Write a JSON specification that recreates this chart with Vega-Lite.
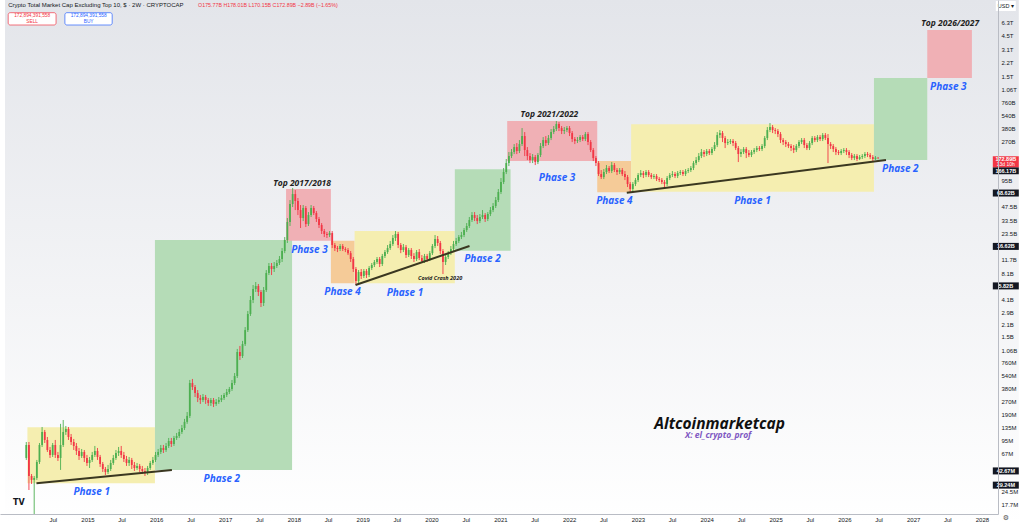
{
"$schema": "https://vega.github.io/schema/vega-lite/v6.json",
"width": 998, "height": 514, "autosize": "none", "padding": {"left":0,"top":0,"right":26,"bottom":9},
"background": "#ffffff",
"resolve": {"axis": {"x": "independent", "y": "independent"}},
"config": {"view": {"stroke": null}, "axis": {"labelFont": "Liberation Sans", "labelFontSize": 6, "labelColor": "#131722", "ticks": false, "grid": false, "domainColor": "#b9bcc4", "domainWidth": 1, "zindex": 1, "labelOverlap": false, "labelFlush": false}},
"datasets": {"candles": [
{"d":"2014-02-10","o":0.0602,"h":0.092,"l":0.0571,"c":0.085},
{"d":"2014-02-24","o":0.085,"h":0.092,"l":0.0257,"c":0.0373},
{"d":"2014-03-10","o":0.0373,"h":0.0393,"l":0.0302,"c":0.0336},
{"d":"2014-03-24","o":0.0336,"h":0.0373,"l":0.008,"c":0.0354},
{"d":"2014-04-07","o":0.0354,"h":0.0571,"l":0.0336,"c":0.0541},
{"d":"2014-04-21","o":0.0541,"h":0.0896,"l":0.0513,"c":0.085},
{"d":"2014-05-05","o":0.085,"h":0.1371,"l":0.0806,"c":0.1201},
{"d":"2014-05-19","o":0.1201,"h":0.1266,"l":0.0896,"c":0.0971},
{"d":"2014-06-02","o":0.0971,"h":0.1051,"l":0.0706,"c":0.0744},
{"d":"2014-06-16","o":0.0744,"h":0.0806,"l":0.0602,"c":0.0652},
{"d":"2014-06-30","o":0.0652,"h":0.0896,"l":0.0618,"c":0.085},
{"d":"2014-07-14","o":0.085,"h":0.0971,"l":0.0602,"c":0.0652},
{"d":"2014-07-28","o":0.0652,"h":0.0706,"l":0.0556,"c":0.0602},
{"d":"2014-08-11","o":0.0602,"h":0.149,"l":0.0438,"c":0.085},
{"d":"2014-08-25","o":0.085,"h":0.165,"l":0.0806,"c":0.1201},
{"d":"2014-09-08","o":0.1201,"h":0.1408,"l":0.1109,"c":0.13},
{"d":"2014-09-22","o":0.13,"h":0.1371,"l":0.0971,"c":0.1051},
{"d":"2014-10-06","o":0.1051,"h":0.1138,"l":0.085,"c":0.092},
{"d":"2014-10-20","o":0.092,"h":0.0997,"l":0.0744,"c":0.0828},
{"d":"2014-11-03","o":0.0828,"h":0.0896,"l":0.0652,"c":0.0725},
{"d":"2014-11-17","o":0.0725,"h":0.0785,"l":0.0571,"c":0.0635},
{"d":"2014-12-01","o":0.0635,"h":0.0764,"l":0.0602,"c":0.0706},
{"d":"2014-12-15","o":0.0706,"h":0.0744,"l":0.0541,"c":0.0602},
{"d":"2014-12-29","o":0.0602,"h":0.0652,"l":0.0487,"c":0.0527},
{"d":"2015-01-12","o":0.0527,"h":0.0618,"l":0.0461,"c":0.0571},
{"d":"2015-01-26","o":0.0571,"h":0.0706,"l":0.0541,"c":0.0652},
{"d":"2015-02-09","o":0.0652,"h":0.0828,"l":0.0618,"c":0.0725},
{"d":"2015-02-23","o":0.0725,"h":0.0785,"l":0.0571,"c":0.0618},
{"d":"2015-03-09","o":0.0618,"h":0.0652,"l":0.0474,"c":0.0513},
{"d":"2015-03-23","o":0.0513,"h":0.0541,"l":0.0415,"c":0.0449},
{"d":"2015-04-06","o":0.0449,"h":0.0474,"l":0.0383,"c":0.0415},
{"d":"2015-04-20","o":0.0415,"h":0.05,"l":0.0393,"c":0.0449},
{"d":"2015-05-04","o":0.0449,"h":0.0571,"l":0.0426,"c":0.0527},
{"d":"2015-05-18","o":0.0527,"h":0.0652,"l":0.05,"c":0.0602},
{"d":"2015-06-01","o":0.0602,"h":0.0744,"l":0.0571,"c":0.0687},
{"d":"2015-06-15","o":0.0687,"h":0.0806,"l":0.0635,"c":0.0725},
{"d":"2015-06-29","o":0.0725,"h":0.0828,"l":0.0602,"c":0.0652},
{"d":"2015-07-13","o":0.0652,"h":0.0706,"l":0.0541,"c":0.0586},
{"d":"2015-07-27","o":0.0586,"h":0.0635,"l":0.0487,"c":0.0527},
{"d":"2015-08-10","o":0.0527,"h":0.0618,"l":0.0487,"c":0.0571},
{"d":"2015-08-24","o":0.0571,"h":0.0602,"l":0.0449,"c":0.05},
{"d":"2015-09-07","o":0.05,"h":0.0541,"l":0.0426,"c":0.0461},
{"d":"2015-09-21","o":0.0461,"h":0.0527,"l":0.0438,"c":0.0487},
{"d":"2015-10-05","o":0.0487,"h":0.0513,"l":0.0415,"c":0.0449},
{"d":"2015-10-19","o":0.0449,"h":0.0487,"l":0.0393,"c":0.0426},
{"d":"2015-11-02","o":0.0426,"h":0.0461,"l":0.0373,"c":0.0415},
{"d":"2015-11-16","o":0.0415,"h":0.0487,"l":0.0383,"c":0.0461},
{"d":"2015-11-30","o":0.0461,"h":0.0556,"l":0.0438,"c":0.0527},
{"d":"2015-12-14","o":0.0527,"h":0.0618,"l":0.05,"c":0.0571},
{"d":"2015-12-28","o":0.0571,"h":0.0706,"l":0.0541,"c":0.0652},
{"d":"2016-01-11","o":0.0652,"h":0.0764,"l":0.0618,"c":0.0706},
{"d":"2016-01-25","o":0.0706,"h":0.085,"l":0.0669,"c":0.0785},
{"d":"2016-02-08","o":0.0785,"h":0.085,"l":0.0687,"c":0.0744},
{"d":"2016-02-22","o":0.0744,"h":0.0896,"l":0.0706,"c":0.0828},
{"d":"2016-03-07","o":0.0828,"h":0.1024,"l":0.0785,"c":0.0945},
{"d":"2016-03-21","o":0.0945,"h":0.1024,"l":0.0806,"c":0.0873},
{"d":"2016-04-04","o":0.0873,"h":0.108,"l":0.0828,"c":0.1024},
{"d":"2016-04-18","o":0.1024,"h":0.1169,"l":0.0971,"c":0.108},
{"d":"2016-05-02","o":0.108,"h":0.13,"l":0.1024,"c":0.1201},
{"d":"2016-05-16","o":0.1201,"h":0.1446,"l":0.1138,"c":0.1335},
{"d":"2016-05-30","o":0.1335,"h":0.17,"l":0.1266,"c":0.157},
{"d":"2016-06-13","o":0.157,"h":0.204,"l":0.149,"c":0.184},
{"d":"2016-06-27","o":0.184,"h":0.478,"l":0.174,"c":0.441},
{"d":"2016-07-11","o":0.441,"h":0.491,"l":0.366,"c":0.397},
{"d":"2016-07-25","o":0.397,"h":0.418,"l":0.304,"c":0.338},
{"d":"2016-08-08","o":0.338,"h":0.366,"l":0.266,"c":0.296},
{"d":"2016-08-22","o":0.296,"h":0.321,"l":0.253,"c":0.281},
{"d":"2016-09-05","o":0.281,"h":0.329,"l":0.266,"c":0.304},
{"d":"2016-09-19","o":0.304,"h":0.321,"l":0.253,"c":0.281},
{"d":"2016-10-03","o":0.281,"h":0.296,"l":0.24,"c":0.259},
{"d":"2016-10-17","o":0.259,"h":0.296,"l":0.24,"c":0.281},
{"d":"2016-10-31","o":0.281,"h":0.296,"l":0.233,"c":0.253},
{"d":"2016-11-14","o":0.253,"h":0.288,"l":0.24,"c":0.266},
{"d":"2016-11-28","o":0.266,"h":0.304,"l":0.253,"c":0.281},
{"d":"2016-12-12","o":0.281,"h":0.321,"l":0.266,"c":0.296},
{"d":"2016-12-26","o":0.296,"h":0.338,"l":0.281,"c":0.321},
{"d":"2017-01-09","o":0.321,"h":0.376,"l":0.304,"c":0.347},
{"d":"2017-01-23","o":0.347,"h":0.397,"l":0.329,"c":0.376},
{"d":"2017-02-06","o":0.376,"h":0.478,"l":0.357,"c":0.441},
{"d":"2017-02-20","o":0.441,"h":0.575,"l":0.418,"c":0.531},
{"d":"2017-03-06","o":0.531,"h":1.09,"l":0.504,"c":1.005},
{"d":"2017-03-20","o":1.005,"h":1.18,"l":0.813,"c":0.904},
{"d":"2017-04-03","o":0.904,"h":1.35,"l":0.857,"c":1.24},
{"d":"2017-04-17","o":1.24,"h":1.95,"l":1.18,"c":1.8},
{"d":"2017-05-01","o":1.8,"h":2.99,"l":1.71,"c":2.76},
{"d":"2017-05-15","o":2.76,"h":4.45,"l":2.62,"c":4.0},
{"d":"2017-05-29","o":4.0,"h":5.96,"l":3.69,"c":5.36},
{"d":"2017-06-12","o":5.36,"h":6.45,"l":4.95,"c":5.8},
{"d":"2017-06-26","o":5.8,"h":6.12,"l":4.45,"c":4.95},
{"d":"2017-07-10","o":4.95,"h":5.22,"l":3.32,"c":3.69},
{"d":"2017-07-24","o":3.69,"h":5.65,"l":3.41,"c":5.22},
{"d":"2017-08-07","o":5.22,"h":8.87,"l":4.95,"c":8.19},
{"d":"2017-08-21","o":8.19,"h":10.69,"l":7.77,"c":9.87},
{"d":"2017-09-04","o":9.87,"h":10.69,"l":7.77,"c":9.11},
{"d":"2017-09-18","o":9.11,"h":10.98,"l":8.42,"c":9.87},
{"d":"2017-10-02","o":9.87,"h":11.58,"l":9.36,"c":10.69},
{"d":"2017-10-16","o":10.69,"h":12.87,"l":10.14,"c":11.89},
{"d":"2017-10-30","o":11.89,"h":15.9,"l":10.98,"c":14.7},
{"d":"2017-11-13","o":14.7,"h":21.3,"l":13.9,"c":19.69},
{"d":"2017-11-27","o":19.69,"h":35.3,"l":18.2,"c":31.8},
{"d":"2017-12-11","o":31.8,"h":56.97,"l":28.6,"c":51.2},
{"d":"2017-12-25","o":51.2,"h":78.4,"l":47.3,"c":66.8},
{"d":"2018-01-08","o":66.8,"h":74.3,"l":43.68,"c":55.5},
{"d":"2018-01-22","o":55.5,"h":60.1,"l":38.25,"c":43.68},
{"d":"2018-02-05","o":43.68,"h":49.88,"l":27.1,"c":35.3},
{"d":"2018-02-19","o":35.3,"h":49.88,"l":32.6,"c":46.1},
{"d":"2018-03-05","o":46.1,"h":48.6,"l":27.8,"c":30.1},
{"d":"2018-03-19","o":30.1,"h":41.4,"l":28.6,"c":38.25},
{"d":"2018-04-02","o":38.25,"h":49.88,"l":36.3,"c":46.1},
{"d":"2018-04-16","o":46.1,"h":48.6,"l":38.25,"c":40.3},
{"d":"2018-04-30","o":40.3,"h":42.5,"l":31.8,"c":34.4},
{"d":"2018-05-14","o":34.4,"h":36.3,"l":27.1,"c":29.33},
{"d":"2018-05-28","o":29.33,"h":30.9,"l":23.1,"c":25.0},
{"d":"2018-06-11","o":25.0,"h":26.4,"l":21.3,"c":23.1},
{"d":"2018-06-25","o":23.1,"h":24.4,"l":20.8,"c":22.49},
{"d":"2018-07-09","o":22.49,"h":25.0,"l":21.3,"c":23.7},
{"d":"2018-07-23","o":23.7,"h":25.0,"l":15.9,"c":17.24},
{"d":"2018-08-06","o":17.24,"h":18.2,"l":14.7,"c":15.9},
{"d":"2018-08-20","o":15.9,"h":16.8,"l":14.3,"c":15.5},
{"d":"2018-09-03","o":15.5,"h":17.7,"l":14.7,"c":16.8},
{"d":"2018-09-17","o":16.8,"h":17.7,"l":14.7,"c":15.5},
{"d":"2018-10-01","o":15.5,"h":16.3,"l":14.3,"c":15.1},
{"d":"2018-10-15","o":15.1,"h":15.9,"l":13.22,"c":13.9},
{"d":"2018-10-29","o":13.9,"h":14.7,"l":10.98,"c":11.89},
{"d":"2018-11-12","o":11.89,"h":12.54,"l":8.42,"c":9.11},
{"d":"2018-11-26","o":9.11,"h":9.61,"l":5.96,"c":6.63},
{"d":"2018-12-10","o":6.63,"h":8.87,"l":6.12,"c":8.42},
{"d":"2018-12-24","o":8.42,"h":9.11,"l":6.99,"c":7.57},
{"d":"2019-01-07","o":7.57,"h":9.11,"l":7.18,"c":8.64},
{"d":"2019-01-21","o":8.64,"h":9.11,"l":7.18,"c":7.77},
{"d":"2019-02-04","o":7.77,"h":9.87,"l":7.37,"c":9.36},
{"d":"2019-02-18","o":9.36,"h":10.69,"l":8.87,"c":10.14},
{"d":"2019-03-04","o":10.14,"h":11.58,"l":9.61,"c":10.98},
{"d":"2019-03-18","o":10.98,"h":12.54,"l":10.41,"c":11.89},
{"d":"2019-04-01","o":11.89,"h":12.54,"l":9.61,"c":10.41},
{"d":"2019-04-15","o":10.41,"h":13.6,"l":9.87,"c":12.87},
{"d":"2019-04-29","o":12.87,"h":15.1,"l":12.21,"c":14.3},
{"d":"2019-05-13","o":14.3,"h":17.24,"l":13.6,"c":15.9},
{"d":"2019-05-27","o":15.9,"h":19.2,"l":15.1,"c":17.7},
{"d":"2019-06-10","o":17.7,"h":22.49,"l":16.8,"c":20.8},
{"d":"2019-06-24","o":20.8,"h":25.0,"l":19.2,"c":23.1},
{"d":"2019-07-08","o":23.1,"h":24.4,"l":15.9,"c":17.24},
{"d":"2019-07-22","o":17.24,"h":18.2,"l":13.9,"c":15.1},
{"d":"2019-08-05","o":15.1,"h":17.7,"l":14.3,"c":16.3},
{"d":"2019-08-19","o":16.3,"h":17.24,"l":12.21,"c":13.22},
{"d":"2019-09-02","o":13.22,"h":15.9,"l":12.54,"c":15.1},
{"d":"2019-09-16","o":15.1,"h":15.9,"l":11.89,"c":12.87},
{"d":"2019-09-30","o":12.87,"h":13.9,"l":10.98,"c":11.89},
{"d":"2019-10-14","o":11.89,"h":15.1,"l":11.27,"c":14.3},
{"d":"2019-10-28","o":14.3,"h":15.5,"l":11.58,"c":12.21},
{"d":"2019-11-11","o":12.21,"h":13.22,"l":10.69,"c":11.27},
{"d":"2019-11-25","o":11.27,"h":13.6,"l":10.69,"c":12.87},
{"d":"2019-12-09","o":12.87,"h":13.6,"l":10.98,"c":11.89},
{"d":"2019-12-23","o":11.89,"h":14.7,"l":11.27,"c":13.9},
{"d":"2020-01-06","o":13.9,"h":17.7,"l":13.22,"c":16.8},
{"d":"2020-01-20","o":16.8,"h":22.49,"l":15.9,"c":20.2},
{"d":"2020-02-03","o":20.2,"h":21.9,"l":16.8,"c":18.2},
{"d":"2020-02-17","o":18.2,"h":19.2,"l":13.6,"c":14.7},
{"d":"2020-03-02","o":14.7,"h":15.5,"l":7.98,"c":10.98},
{"d":"2020-03-16","o":10.98,"h":13.6,"l":10.14,"c":12.54},
{"d":"2020-03-30","o":12.54,"h":14.7,"l":11.89,"c":13.9},
{"d":"2020-04-13","o":13.9,"h":16.8,"l":13.22,"c":15.5},
{"d":"2020-04-27","o":15.5,"h":19.2,"l":14.7,"c":17.7},
{"d":"2020-05-11","o":17.7,"h":20.8,"l":16.8,"c":19.2},
{"d":"2020-05-25","o":19.2,"h":22.49,"l":18.2,"c":21.3},
{"d":"2020-06-08","o":21.3,"h":24.4,"l":20.2,"c":22.49},
{"d":"2020-06-22","o":22.49,"h":27.1,"l":21.3,"c":25.68},
{"d":"2020-07-06","o":25.68,"h":30.9,"l":24.4,"c":28.6},
{"d":"2020-07-20","o":28.6,"h":36.3,"l":27.1,"c":33.49},
{"d":"2020-08-03","o":33.49,"h":41.4,"l":31.8,"c":38.25},
{"d":"2020-08-17","o":38.25,"h":41.4,"l":32.6,"c":35.3},
{"d":"2020-08-31","o":35.3,"h":38.25,"l":30.1,"c":32.6},
{"d":"2020-09-14","o":32.6,"h":39.3,"l":30.9,"c":36.3},
{"d":"2020-09-28","o":36.3,"h":43.68,"l":34.4,"c":38.25},
{"d":"2020-10-12","o":38.25,"h":40.3,"l":31.8,"c":34.4},
{"d":"2020-10-26","o":34.4,"h":41.4,"l":32.6,"c":39.3},
{"d":"2020-11-09","o":39.3,"h":47.3,"l":37.2,"c":43.68},
{"d":"2020-11-23","o":43.68,"h":52.6,"l":41.4,"c":48.6},
{"d":"2020-12-07","o":48.6,"h":61.7,"l":46.1,"c":56.97},
{"d":"2020-12-21","o":56.97,"h":76.3,"l":54.0,"c":70.5},
{"d":"2021-01-04","o":70.5,"h":102.2,"l":66.8,"c":91.9},
{"d":"2021-01-18","o":91.9,"h":133.3,"l":87.1,"c":119.9},
{"d":"2021-02-01","o":119.9,"h":169.3,"l":113.6,"c":152.2},
{"d":"2021-02-15","o":152.2,"h":203.9,"l":140.6,"c":183.3},
{"d":"2021-03-01","o":183.3,"h":220.8,"l":173.8,"c":203.9},
{"d":"2021-03-15","o":203.9,"h":252.1,"l":193.3,"c":232.8},
{"d":"2021-03-29","o":232.8,"h":258.9,"l":193.3,"c":209.4},
{"d":"2021-04-12","o":209.4,"h":280.4,"l":198.5,"c":252.1},
{"d":"2021-04-26","o":252.1,"h":385.6,"l":239.1,"c":311.8},
{"d":"2021-05-10","o":311.8,"h":346.8,"l":183.3,"c":215.0},
{"d":"2021-05-24","o":215.0,"h":232.8,"l":164.8,"c":183.3},
{"d":"2021-06-07","o":183.3,"h":198.5,"l":152.2,"c":164.8},
{"d":"2021-06-21","o":164.8,"h":193.3,"l":152.2,"c":178.5},
{"d":"2021-07-05","o":178.5,"h":188.3,"l":144.3,"c":156.3},
{"d":"2021-07-19","o":156.3,"h":198.5,"l":148.2,"c":188.3},
{"d":"2021-08-02","o":188.3,"h":258.9,"l":178.5,"c":239.1},
{"d":"2021-08-16","o":239.1,"h":303.6,"l":226.7,"c":280.4},
{"d":"2021-08-30","o":280.4,"h":311.8,"l":239.1,"c":258.9},
{"d":"2021-09-13","o":258.9,"h":320.2,"l":245.5,"c":295.7},
{"d":"2021-09-27","o":295.7,"h":375.5,"l":280.4,"c":346.8},
{"d":"2021-10-11","o":346.8,"h":406.7,"l":328.8,"c":375.5},
{"d":"2021-10-25","o":375.5,"h":464.4,"l":356.1,"c":428.9},
{"d":"2021-11-08","o":428.9,"h":452.3,"l":356.1,"c":385.6},
{"d":"2021-11-22","o":385.6,"h":406.7,"l":328.8,"c":356.1},
{"d":"2021-12-06","o":356.1,"h":396.0,"l":328.8,"c":365.7},
{"d":"2021-12-20","o":365.7,"h":406.7,"l":346.8,"c":385.6},
{"d":"2022-01-03","o":385.6,"h":406.7,"l":311.8,"c":337.7},
{"d":"2022-01-17","o":337.7,"h":356.1,"l":265.9,"c":287.9},
{"d":"2022-01-31","o":287.9,"h":303.6,"l":252.1,"c":273.0},
{"d":"2022-02-14","o":273.0,"h":303.6,"l":258.9,"c":280.4},
{"d":"2022-02-28","o":280.4,"h":320.2,"l":265.9,"c":303.6},
{"d":"2022-03-14","o":303.6,"h":320.2,"l":273.0,"c":287.9},
{"d":"2022-03-28","o":287.9,"h":346.8,"l":273.0,"c":328.8},
{"d":"2022-04-11","o":328.8,"h":346.8,"l":245.5,"c":265.9},
{"d":"2022-04-25","o":265.9,"h":280.4,"l":203.9,"c":215.0},
{"d":"2022-05-09","o":215.0,"h":226.7,"l":160.5,"c":173.8},
{"d":"2022-05-23","o":173.8,"h":183.3,"l":140.6,"c":152.2},
{"d":"2022-06-06","o":152.2,"h":160.5,"l":107.8,"c":113.6},
{"d":"2022-06-20","o":113.6,"h":126.4,"l":99.5,"c":104.9},
{"d":"2022-07-04","o":104.9,"h":129.8,"l":99.5,"c":119.9},
{"d":"2022-07-18","o":119.9,"h":144.3,"l":113.6,"c":133.3},
{"d":"2022-08-01","o":133.3,"h":140.6,"l":116.7,"c":123.1},
{"d":"2022-08-15","o":123.1,"h":156.3,"l":116.7,"c":144.3},
{"d":"2022-08-29","o":144.3,"h":152.2,"l":119.9,"c":126.4},
{"d":"2022-09-12","o":126.4,"h":133.3,"l":110.7,"c":119.9},
{"d":"2022-09-26","o":119.9,"h":133.3,"l":113.6,"c":126.4},
{"d":"2022-10-10","o":126.4,"h":133.3,"l":107.8,"c":113.6},
{"d":"2022-10-24","o":113.6,"h":123.1,"l":96.9,"c":104.9},
{"d":"2022-11-07","o":104.9,"h":110.7,"l":80.5,"c":87.1},
{"d":"2022-11-21","o":87.1,"h":91.9,"l":70.5,"c":76.3},
{"d":"2022-12-05","o":76.3,"h":91.9,"l":72.4,"c":87.1},
{"d":"2022-12-19","o":87.1,"h":102.2,"l":82.6,"c":96.9},
{"d":"2023-01-02","o":96.9,"h":116.7,"l":91.9,"c":110.7},
{"d":"2023-01-16","o":110.7,"h":126.4,"l":104.9,"c":116.7},
{"d":"2023-01-30","o":116.7,"h":123.1,"l":102.2,"c":110.7},
{"d":"2023-02-13","o":110.7,"h":126.4,"l":104.9,"c":119.9},
{"d":"2023-02-27","o":119.9,"h":126.4,"l":104.9,"c":110.7},
{"d":"2023-03-13","o":110.7,"h":116.7,"l":99.5,"c":104.9},
{"d":"2023-03-27","o":104.9,"h":113.6,"l":99.5,"c":107.8},
{"d":"2023-04-10","o":107.8,"h":113.6,"l":94.4,"c":99.5},
{"d":"2023-04-24","o":99.5,"h":104.9,"l":91.9,"c":96.9},
{"d":"2023-05-08","o":96.9,"h":102.2,"l":87.1,"c":91.9},
{"d":"2023-05-22","o":91.9,"h":96.9,"l":80.5,"c":87.1},
{"d":"2023-06-05","o":87.1,"h":107.8,"l":82.6,"c":102.2},
{"d":"2023-06-19","o":102.2,"h":116.7,"l":96.9,"c":110.7},
{"d":"2023-07-03","o":110.7,"h":123.1,"l":104.9,"c":113.6},
{"d":"2023-07-17","o":113.6,"h":119.9,"l":102.2,"c":107.8},
{"d":"2023-07-31","o":107.8,"h":123.1,"l":102.2,"c":116.7},
{"d":"2023-08-14","o":116.7,"h":126.4,"l":110.7,"c":119.9},
{"d":"2023-08-28","o":119.9,"h":126.4,"l":107.8,"c":113.6},
{"d":"2023-09-11","o":113.6,"h":129.8,"l":107.8,"c":123.1},
{"d":"2023-09-25","o":123.1,"h":133.3,"l":116.7,"c":126.4},
{"d":"2023-10-09","o":126.4,"h":140.6,"l":119.9,"c":133.3},
{"d":"2023-10-23","o":133.3,"h":160.5,"l":126.4,"c":152.2},
{"d":"2023-11-06","o":152.2,"h":178.5,"l":144.3,"c":164.8},
{"d":"2023-11-20","o":164.8,"h":198.5,"l":156.3,"c":183.3},
{"d":"2023-12-04","o":183.3,"h":220.8,"l":173.8,"c":203.9},
{"d":"2023-12-18","o":203.9,"h":215.0,"l":178.5,"c":193.3},
{"d":"2024-01-01","o":193.3,"h":220.8,"l":183.3,"c":209.4},
{"d":"2024-01-15","o":209.4,"h":220.8,"l":188.3,"c":198.5},
{"d":"2024-01-29","o":198.5,"h":232.8,"l":188.3,"c":220.8},
{"d":"2024-02-12","o":220.8,"h":265.9,"l":209.4,"c":245.5},
{"d":"2024-02-26","o":245.5,"h":346.8,"l":232.8,"c":320.2},
{"d":"2024-03-11","o":320.2,"h":365.7,"l":295.7,"c":337.7},
{"d":"2024-03-25","o":337.7,"h":356.1,"l":265.9,"c":295.7},
{"d":"2024-04-08","o":295.7,"h":311.8,"l":226.7,"c":258.9},
{"d":"2024-04-22","o":258.9,"h":287.9,"l":245.5,"c":265.9},
{"d":"2024-05-06","o":265.9,"h":287.9,"l":252.1,"c":273.0},
{"d":"2024-05-20","o":273.0,"h":287.9,"l":239.1,"c":258.9},
{"d":"2024-06-03","o":258.9,"h":273.0,"l":215.0,"c":226.7},
{"d":"2024-06-17","o":226.7,"h":239.1,"l":156.3,"c":193.3},
{"d":"2024-07-01","o":193.3,"h":220.8,"l":178.5,"c":203.9},
{"d":"2024-07-15","o":203.9,"h":232.8,"l":193.3,"c":220.8},
{"d":"2024-07-29","o":220.8,"h":232.8,"l":173.8,"c":198.5},
{"d":"2024-08-12","o":198.5,"h":215.0,"l":178.5,"c":188.3},
{"d":"2024-08-26","o":188.3,"h":215.0,"l":178.5,"c":203.9},
{"d":"2024-09-09","o":203.9,"h":226.7,"l":193.3,"c":215.0},
{"d":"2024-09-23","o":215.0,"h":239.1,"l":203.9,"c":226.7},
{"d":"2024-10-07","o":226.7,"h":239.1,"l":209.4,"c":220.8},
{"d":"2024-10-21","o":220.8,"h":252.1,"l":209.4,"c":239.1},
{"d":"2024-11-04","o":239.1,"h":311.8,"l":226.7,"c":295.7},
{"d":"2024-11-18","o":295.7,"h":396.0,"l":280.4,"c":365.7},
{"d":"2024-12-02","o":365.7,"h":440.4,"l":346.8,"c":396.0},
{"d":"2024-12-16","o":396.0,"h":417.6,"l":337.7,"c":365.7},
{"d":"2024-12-30","o":365.7,"h":385.6,"l":328.8,"c":356.1},
{"d":"2025-01-13","o":356.1,"h":375.5,"l":303.6,"c":328.8},
{"d":"2025-01-27","o":328.8,"h":346.8,"l":258.9,"c":280.4},
{"d":"2025-02-10","o":280.4,"h":295.7,"l":245.5,"c":265.9},
{"d":"2025-02-24","o":265.9,"h":280.4,"l":232.8,"c":252.1},
{"d":"2025-03-10","o":252.1,"h":265.9,"l":226.7,"c":239.1},
{"d":"2025-03-24","o":239.1,"h":252.1,"l":209.4,"c":226.7},
{"d":"2025-04-07","o":226.7,"h":245.5,"l":198.5,"c":215.0},
{"d":"2025-04-21","o":215.0,"h":252.1,"l":203.9,"c":239.1},
{"d":"2025-05-05","o":239.1,"h":280.4,"l":226.7,"c":265.9},
{"d":"2025-05-19","o":265.9,"h":295.7,"l":252.1,"c":280.4},
{"d":"2025-06-02","o":280.4,"h":295.7,"l":226.7,"c":245.5},
{"d":"2025-06-16","o":245.5,"h":258.9,"l":215.0,"c":226.7},
{"d":"2025-06-30","o":226.7,"h":273.0,"l":215.0,"c":258.9},
{"d":"2025-07-14","o":258.9,"h":311.8,"l":245.5,"c":295.7},
{"d":"2025-07-28","o":295.7,"h":311.8,"l":265.9,"c":280.4},
{"d":"2025-08-11","o":280.4,"h":320.2,"l":265.9,"c":303.6},
{"d":"2025-08-25","o":303.6,"h":320.2,"l":273.0,"c":287.9},
{"d":"2025-09-08","o":287.9,"h":337.7,"l":273.0,"c":320.2},
{"d":"2025-09-22","o":320.2,"h":337.7,"l":280.4,"c":295.7},
{"d":"2025-10-06","o":295.7,"h":328.8,"l":152.2,"c":252.1},
{"d":"2025-10-20","o":252.1,"h":265.9,"l":220.8,"c":239.1},
{"d":"2025-11-03","o":239.1,"h":252.1,"l":203.9,"c":220.8},
{"d":"2025-11-17","o":220.8,"h":232.8,"l":188.3,"c":203.9},
{"d":"2025-12-01","o":203.9,"h":215.0,"l":188.3,"c":198.5},
{"d":"2025-12-15","o":198.5,"h":220.8,"l":188.3,"c":209.4},
{"d":"2025-12-29","o":209.4,"h":226.7,"l":198.5,"c":215.0},
{"d":"2026-01-12","o":215.0,"h":226.7,"l":188.3,"c":203.9},
{"d":"2026-01-26","o":203.9,"h":215.0,"l":173.8,"c":188.3},
{"d":"2026-02-09","o":188.3,"h":198.5,"l":164.8,"c":173.8},
{"d":"2026-02-23","o":173.8,"h":193.3,"l":164.8,"c":183.3},
{"d":"2026-03-09","o":183.3,"h":193.3,"l":160.5,"c":169.3},
{"d":"2026-03-23","o":169.3,"h":188.3,"l":164.8,"c":178.5},
{"d":"2026-04-06","o":178.5,"h":193.3,"l":169.3,"c":183.3},
{"d":"2026-04-20","o":183.3,"h":203.9,"l":173.8,"c":193.3},
{"d":"2026-05-04","o":193.3,"h":203.9,"l":178.5,"c":188.3},
{"d":"2026-05-18","o":188.3,"h":198.5,"l":169.3,"c":178.5},
{"d":"2026-06-01","o":178.5,"h":188.3,"l":160.5,"c":169.3},
{"d":"2026-06-15","o":169.3,"h":183.3,"l":164.8,"c":175.77},
{"d":"2026-06-29","o":175.77,"h":178.01,"l":170.15,"c":172.89}
]},
"layer": [
{"data": {"values": [{"d":"2013-10-20","d2":"2028-07-15","v":11580,"v2":0.0105}]},
 "mark": {"type":"rect","clip":false,"fill":{"gradient":"linear","x1":0,"y1":0,"x2":0,"y2":1,"stops":[{"offset":0,"color":"#e3e5ea"},{"offset":1,"color":"#ffffff"}]}},
 "encoding": {"x":{"field":"d","type":"temporal","scale":{"type":"utc","domain":[{"year":2013,"month":10,"date":20,"utc":true},{"year":2028,"month":2,"date":29,"utc":true}]},
   "axis":{"orient":"bottom","title":null,"zindex":1,"labelPadding":2,"labelExpr":"utcFormat(datum.value, '%m') == '07' ? 'Jul' : utcFormat(datum.value, '%Y')",
   "values":[{"year":2014,"month":7,"date":1,"utc":true},{"year":2015,"month":1,"date":1,"utc":true},{"year":2015,"month":7,"date":1,"utc":true},{"year":2016,"month":1,"date":1,"utc":true},{"year":2016,"month":7,"date":1,"utc":true},{"year":2017,"month":1,"date":1,"utc":true},{"year":2017,"month":7,"date":1,"utc":true},{"year":2018,"month":1,"date":1,"utc":true},{"year":2018,"month":7,"date":1,"utc":true},{"year":2019,"month":1,"date":1,"utc":true},{"year":2019,"month":7,"date":1,"utc":true},{"year":2020,"month":1,"date":1,"utc":true},{"year":2020,"month":7,"date":1,"utc":true},{"year":2021,"month":1,"date":1,"utc":true},{"year":2021,"month":7,"date":1,"utc":true},{"year":2022,"month":1,"date":1,"utc":true},{"year":2022,"month":7,"date":1,"utc":true},{"year":2023,"month":1,"date":1,"utc":true},{"year":2023,"month":7,"date":1,"utc":true},{"year":2024,"month":1,"date":1,"utc":true},{"year":2024,"month":7,"date":1,"utc":true},{"year":2025,"month":1,"date":1,"utc":true},{"year":2025,"month":7,"date":1,"utc":true},{"year":2026,"month":1,"date":1,"utc":true},{"year":2026,"month":7,"date":1,"utc":true},{"year":2027,"month":1,"date":1,"utc":true},{"year":2027,"month":7,"date":1,"utc":true},{"year":2028,"month":1,"date":1,"utc":true}]}},
  "x2":{"field":"d2"},
  "y":{"field":"v","type":"quantitative","scale":{"type":"log","domain":[0.013584,11580],"nice":false},
   "axis":{"orient":"right","title":null,"zindex":1,"labelPadding":3,"labelExpr":"datum.value >= 1000 ? format(datum.value/1000, '.3~r') + 'T' : datum.value >= 1 ? format(datum.value, '.3~r') + 'B' : format(datum.value*1000, '.3~r') + 'M'",
   "values":[6300,4500,3100,2200,1500,1060,760,540,380,270,95,47.5,33.5,23.5,11.7,8.1,4.1,2.9,2.1,1.5,1.06,0.76,0.54,0.38,0.27,0.19,0.135,0.095,0.067,0.0245,0.0177]}},
  "y2":{"field":"v2"}}},
{"data": {"values": [
 {"d":"2014-02-16","d2":"2015-12-25","v":0.136,"v2":0.0307,"k":"y"},
 {"d":"2015-12-25","d2":"2017-12-22","v":19.7,"v2":0.0437,"k":"g"},
 {"d":"2017-11-20","d2":"2018-07-16","v":76.4,"v2":19.3,"k":"r"},
 {"d":"2018-07-16","d2":"2018-11-19","v":19.3,"v2":6.24,"k":"o"},
 {"d":"2018-11-19","d2":"2020-05-04","v":25.0,"v2":6.24,"k":"y"},
 {"d":"2020-05-04","d2":"2021-02-24","v":128.9,"v2":14.8,"k":"g"},
 {"d":"2021-02-06","d2":"2022-05-30","v":465,"v2":160.7,"k":"r"},
 {"d":"2022-05-30","d2":"2022-11-26","v":160.7,"v2":70.0,"k":"o"},
 {"d":"2022-11-26","d2":"2026-06-07","v":425.7,"v2":71.1,"k":"y"},
 {"d":"2026-06-07","d2":"2027-03-17","v":1457,"v2":165,"k":"g"},
 {"d":"2027-03-17","d2":"2027-11-09","v":5220,"v2":1457,"k":"r"}]},
 "mark": {"type":"rect"},
 "encoding": {"x":{"field":"d","type":"temporal","scale":{"type":"utc","domain":[{"year":2013,"month":10,"date":20,"utc":true},{"year":2028,"month":2,"date":29,"utc":true}]},"axis":null},"x2":{"field":"d2"},
  "y":{"field":"v","type":"quantitative","scale":{"type":"log","domain":[0.013584,11580],"nice":false},"axis":null},"y2":{"field":"v2"},
  "color":{"field":"k","type":"nominal","scale":{"domain":["y","g","r","o"],"range":["#f5eeb0","#b5dcb7","#f0b0b5","#f5cb98"]},"legend":null}}},
{"data": {"name":"candles"},
 "mark": {"type":"rule","clip":true,"strokeWidth":0.9},
 "encoding": {"x":{"field":"d","type":"temporal","scale":{"type":"utc","domain":[{"year":2013,"month":10,"date":20,"utc":true},{"year":2028,"month":2,"date":29,"utc":true}]},"axis":null},
  "y":{"field":"l","type":"quantitative","scale":{"type":"log","domain":[0.013584,11580],"nice":false},"axis":null},
  "y2":{"field":"h"},
  "color":{"condition":{"test":"datum.c >= datum.o","value":"#4caf50"},"value":"#f23645"}}},
{"data": {"name":"candles"},
 "mark": {"type":"bar","clip":true,"width":1.8},
 "encoding": {"x":{"field":"d","type":"temporal","scale":{"type":"utc","domain":[{"year":2013,"month":10,"date":20,"utc":true},{"year":2028,"month":2,"date":29,"utc":true}]},"axis":null},
  "y":{"field":"o","type":"quantitative","scale":{"type":"log","domain":[0.013584,11580],"nice":false},"axis":null},"y2":{"field":"c"},
  "color":{"condition":{"test":"datum.c >= datum.o","value":"#4caf50"},"value":"#f23645"}}},
{"data": {"values": [{"s":1,"d":"2014-04-05","v":0.0308},{"s":1,"d":"2016-03-24","v":0.0438},{"s":2,"d":"2018-11-24","v":5.96},{"s":2,"d":"2020-07-21","v":16.8},{"s":3,"d":"2022-11-03","v":69.2},{"s":3,"d":"2026-08-10","v":164.8}]},
 "mark": {"type":"line","color":"#3a3720","strokeWidth":2},
 "encoding": {"x":{"field":"d","type":"temporal","scale":{"type":"utc","domain":[{"year":2013,"month":10,"date":20,"utc":true},{"year":2028,"month":2,"date":29,"utc":true}]},"axis":null},
  "y":{"field":"v","type":"quantitative","scale":{"type":"log","domain":[0.013584,11580],"nice":false},"axis":null},"detail":{"field":"s","type":"nominal"}}},
{"data": {"values": [
 {"d":"2015-01-23","v":0.0246,"t":"Phase 1"},{"d":"2016-12-14","v":0.0342,"t":"Phase 2"},{"d":"2018-03-24","v":15.1,"t":"Phase 3"},{"d":"2018-09-16","v":4.95,"t":"Phase 4"},{"d":"2019-08-13","v":4.82,"t":"Phase 1"},{"d":"2020-09-28","v":11.8,"t":"Phase 2"},{"d":"2021-10-29","v":101.5,"t":"Phase 3"},{"d":"2022-08-29","v":55.9,"t":"Phase 4"},{"d":"2024-08-31","v":55.9,"t":"Phase 1"},{"d":"2026-10-25","v":128.7,"t":"Phase 2"},{"d":"2027-07-07","v":1148,"t":"Phase 3"}]},
 "mark": {"type":"text","font":"Open Sans","fontStyle":"italic","fontWeight":"bold","fontSize":10,"color":"#2962ff"},
 "encoding": {"x":{"field":"d","type":"temporal","scale":{"type":"utc","domain":[{"year":2013,"month":10,"date":20,"utc":true},{"year":2028,"month":2,"date":29,"utc":true}]},"axis":null},
  "y":{"field":"v","type":"quantitative","scale":{"type":"log","domain":[0.013584,11580],"nice":false},"axis":null},"text":{"field":"t"}}},
{"data": {"values": [{"d":"2018-02-13","v":88.8,"t":"Top 2017/2018"},{"d":"2021-09-18","v":560,"t":"Top 2021/2022"},{"d":"2027-07-17","v":6285,"t":"Top 2026/2027"}]},
 "mark": {"type":"text","font":"Open Sans","fontStyle":"italic","fontWeight":"bold","fontSize":8.5,"color":"#1e1e1e"},
 "encoding": {"x":{"field":"d","type":"temporal","scale":{"type":"utc","domain":[{"year":2013,"month":10,"date":20,"utc":true},{"year":2028,"month":2,"date":29,"utc":true}]},"axis":null},
  "y":{"field":"v","type":"quantitative","scale":{"type":"log","domain":[0.013584,11580],"nice":false},"axis":null},"text":{"field":"t"}}},
{"data": {"values": [{"d":"2020-02-16","v":7.13,"t":"Covid Crash 2020"}]},
 "mark": {"type":"text","font":"Open Sans","fontStyle":"italic","fontWeight":"bold","fontSize":5.5,"color":"#1e1e1e"},
 "encoding": {"x":{"field":"d","type":"temporal","scale":{"type":"utc","domain":[{"year":2013,"month":10,"date":20,"utc":true},{"year":2028,"month":2,"date":29,"utc":true}]},"axis":null},
  "y":{"field":"v","type":"quantitative","scale":{"type":"log","domain":[0.013584,11580],"nice":false},"axis":null},"text":{"field":"t"}}},
{"data": {"values": [{"d":"2024-03-10","v":0.1485,"t":"Altcoinmarketcap"}]},
 "mark": {"type":"text","font":"Open Sans","fontStyle":"italic","fontWeight":"bold","fontSize":15.5,"color":"#111111"},
 "encoding": {"x":{"field":"d","type":"temporal","scale":{"type":"utc","domain":[{"year":2013,"month":10,"date":20,"utc":true},{"year":2028,"month":2,"date":29,"utc":true}]},"axis":null},
  "y":{"field":"v","type":"quantitative","scale":{"type":"log","domain":[0.013584,11580],"nice":false},"axis":null},"text":{"field":"t"}}},
{"data": {"values": [{"d":"2024-03-02","v":0.1098,"t":"X: el_crypto_prof"}]},
 "mark": {"type":"text","font":"Open Sans","fontStyle":"italic","fontWeight":"bold","fontSize":8.5,"color":"#7e57c2"},
 "encoding": {"x":{"field":"d","type":"temporal","scale":{"type":"utc","domain":[{"year":2013,"month":10,"date":20,"utc":true},{"year":2028,"month":2,"date":29,"utc":true}]},"axis":null},
  "y":{"field":"v","type":"quantitative","scale":{"type":"log","domain":[0.013584,11580],"nice":false},"axis":null},"text":{"field":"t"}}},
{"data": {"values": [{"d":"2013-11-06","v":10218,"t":"Crypto Total Market Cap Excluding Top 10, $ · 2W · CRYPTOCAP"}]},
 "mark": {"type":"text","align":"left","font":"Liberation Sans","fontSize":6,"color":"#131722"},
 "encoding": {"x":{"field":"d","type":"temporal","scale":{"type":"utc","domain":[{"year":2013,"month":10,"date":20,"utc":true},{"year":2028,"month":2,"date":29,"utc":true}]},"axis":null},
  "y":{"field":"v","type":"quantitative","scale":{"type":"log","domain":[0.013584,11580],"nice":false},"axis":null},"text":{"field":"t"}}},
{"data": {"values": [{"d":"2016-08-10","v":10218,"t":"O175.77B H178.01B L170.15B C172.89B −2.89B (−1.65%)"}]},
 "mark": {"type":"text","align":"left","font":"Liberation Sans","fontSize":5.3,"color":"#f23645"},
 "encoding": {"x":{"field":"d","type":"temporal","scale":{"type":"utc","domain":[{"year":2013,"month":10,"date":20,"utc":true},{"year":2028,"month":2,"date":29,"utc":true}]},"axis":null},
  "y":{"field":"v","type":"quantitative","scale":{"type":"log","domain":[0.013584,11580],"nice":false},"axis":null},"text":{"field":"t"}}},
{"data": {"values": [{"d":"2013-11-06","d2":"2014-07-18","v":8264,"v2":5959}]},
 "mark": {"type":"rect","fill":"#ffffff","stroke":"#f23645","strokeWidth":0.7,"cornerRadius":2},
 "encoding": {"x":{"field":"d","type":"temporal","scale":{"type":"utc","domain":[{"year":2013,"month":10,"date":20,"utc":true},{"year":2028,"month":2,"date":29,"utc":true}]},"axis":null},"x2":{"field":"d2"},
  "y":{"field":"v","type":"quantitative","scale":{"type":"log","domain":[0.013584,11580],"nice":false},"axis":null},"y2":{"field":"v2"}}},
{"data": {"values": [{"d":"2014-09-03","d2":"2015-05-12","v":8264,"v2":5959}]},
 "mark": {"type":"rect","fill":"#ffffff","stroke":"#2962ff","strokeWidth":0.7,"cornerRadius":2},
 "encoding": {"x":{"field":"d","type":"temporal","scale":{"type":"utc","domain":[{"year":2013,"month":10,"date":20,"utc":true},{"year":2028,"month":2,"date":29,"utc":true}]},"axis":null},"x2":{"field":"d2"},
  "y":{"field":"v","type":"quantitative","scale":{"type":"log","domain":[0.013584,11580],"nice":false},"axis":null},"y2":{"field":"v2"}}},
{"data": {"values": [{"d":"2014-03-13","v":7510,"t":"172,894,391,558"},{"d":"2014-03-13","v":6401,"t":"SELL"}]},
 "mark": {"type":"text","font":"Liberation Sans","fontSize":4.8,"color":"#f23645"},
 "encoding": {"x":{"field":"d","type":"temporal","scale":{"type":"utc","domain":[{"year":2013,"month":10,"date":20,"utc":true},{"year":2028,"month":2,"date":29,"utc":true}]},"axis":null},
  "y":{"field":"v","type":"quantitative","scale":{"type":"log","domain":[0.013584,11580],"nice":false},"axis":null},"text":{"field":"t"}}},
{"data": {"values": [{"d":"2015-01-07","v":7510,"t":"172,894,391,558"},{"d":"2015-01-07","v":6401,"t":"BUY"}]},
 "mark": {"type":"text","font":"Liberation Sans","fontSize":4.8,"color":"#2962ff"},
 "encoding": {"x":{"field":"d","type":"temporal","scale":{"type":"utc","domain":[{"year":2013,"month":10,"date":20,"utc":true},{"year":2028,"month":2,"date":29,"utc":true}]},"axis":null},
  "y":{"field":"v","type":"quantitative","scale":{"type":"log","domain":[0.013584,11580],"nice":false},"axis":null},"text":{"field":"t"}}},
{"data": {"values": [{"d":"2028-05-07","v":68.62,"t":"68.62B"},{"d":"2028-05-07","v":16.62,"t":"16.62B"},{"d":"2028-05-07","v":5.82,"t":"5.82B"},{"d":"2028-05-07","v":0.04267,"t":"42.67M"},{"d":"2028-05-07","v":0.02924,"t":"29.24M"}]},
 "layer": [
  {"mark": {"type":"tick","orient":"horizontal","size":26,"thickness":7,"color":"#131722","opacity":1,"clip":false}},
  {"mark": {"type":"text","font":"Liberation Sans","fontWeight":"bold","fontSize":5.5,"color":"#ffffff","clip":false},"encoding":{"text":{"field":"t"}}}],
 "encoding": {"x":{"field":"d","type":"temporal","scale":{"type":"utc","domain":[{"year":2013,"month":10,"date":20,"utc":true},{"year":2028,"month":2,"date":29,"utc":true}]},"axis":null},
  "y":{"field":"v","type":"quantitative","scale":{"type":"log","domain":[0.013584,11580],"nice":false},"axis":null}}},
{"data": {"values": [{"d":"2028-05-07","v":166.17,"t":"166.17B"}]},
 "layer": [
  {"mark": {"type":"tick","orient":"horizontal","size":26,"thickness":7,"color":"#131722","opacity":1,"clip":false,"yOffset":11}},
  {"mark": {"type":"text","font":"Liberation Sans","fontWeight":"bold","fontSize":5.5,"color":"#ffffff","clip":false,"yOffset":11},"encoding":{"text":{"field":"t"}}}],
 "encoding": {"x":{"field":"d","type":"temporal","scale":{"type":"utc","domain":[{"year":2013,"month":10,"date":20,"utc":true},{"year":2028,"month":2,"date":29,"utc":true}]},"axis":null},
  "y":{"field":"v","type":"quantitative","scale":{"type":"log","domain":[0.013584,11580],"nice":false},"axis":null}}},
{"data": {"values": [{"d":"2028-05-07","v":172.89,"t":"172.89B","u":"13d 10h"}]},
 "layer": [
  {"mark": {"type":"tick","orient":"horizontal","size":26,"thickness":11,"color":"#f23645","opacity":1,"clip":false,"yOffset":3.5}},
  {"mark": {"type":"text","font":"Liberation Sans","fontWeight":"bold","fontSize":5.5,"color":"#ffffff","clip":false,"yOffset":0.6},"encoding":{"text":{"field":"t"}}},
  {"mark": {"type":"text","font":"Liberation Sans","fontSize":5,"color":"#ffffff","clip":false,"yOffset":6.2},"encoding":{"text":{"field":"u"}}}],
 "encoding": {"x":{"field":"d","type":"temporal","scale":{"type":"utc","domain":[{"year":2013,"month":10,"date":20,"utc":true},{"year":2028,"month":2,"date":29,"utc":true}]},"axis":null},
  "y":{"field":"v","type":"quantitative","scale":{"type":"log","domain":[0.013584,11580],"nice":false},"axis":null}}},
{"data": {"values": [{"d":"2028-05-07","v":9870,"t":"USD ▾"}]},
 "layer": [
  {"mark": {"type":"tick","orient":"horizontal","size":20,"thickness":10,"color":"#ffffff","opacity":1,"clip":false}},
  {"mark": {"type":"text","font":"Liberation Sans","fontSize":5.5,"color":"#131722","clip":false},"encoding":{"text":{"field":"t"}}}],
 "encoding": {"x":{"field":"d","type":"temporal","scale":{"type":"utc","domain":[{"year":2013,"month":10,"date":20,"utc":true},{"year":2028,"month":2,"date":29,"utc":true}]},"axis":null},
  "y":{"field":"v","type":"quantitative","scale":{"type":"log","domain":[0.013584,11580],"nice":false},"axis":null}}},
{"data": {"values": [{"d":"2028-05-07","v":0.0122,"t":"⚙"}]},
 "mark": {"type":"text","font":"DejaVu Sans","fontSize":7,"color":"#555555","clip":false},
 "encoding": {"x":{"field":"d","type":"temporal","scale":{"type":"utc","domain":[{"year":2013,"month":10,"date":20,"utc":true},{"year":2028,"month":2,"date":29,"utc":true}]},"axis":null},
  "y":{"field":"v","type":"quantitative","scale":{"type":"log","domain":[0.013584,11580],"nice":false},"axis":null},"text":{"field":"t"}}},
{"data": {"values": [{"d":"2014-01-01","v":0.0182,"t":"TV"}]},
 "mark": {"type":"text","font":"DejaVu Sans","fontWeight":"bold","fontSize":8,"color":"#131722"},
 "encoding": {"x":{"field":"d","type":"temporal","scale":{"type":"utc","domain":[{"year":2013,"month":10,"date":20,"utc":true},{"year":2028,"month":2,"date":29,"utc":true}]},"axis":null},
  "y":{"field":"v","type":"quantitative","scale":{"type":"log","domain":[0.013584,11580],"nice":false},"axis":null},"text":{"field":"t"}}}
]
}
